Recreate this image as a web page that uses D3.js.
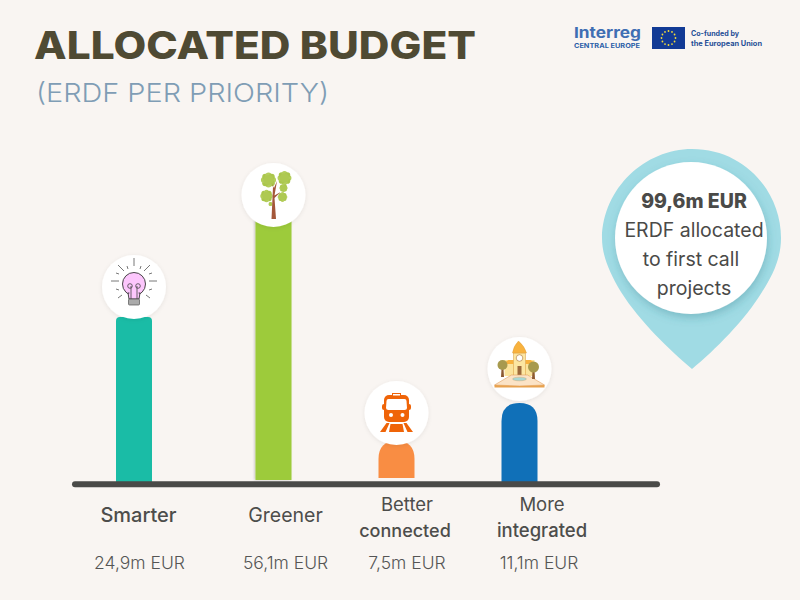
<!DOCTYPE html>
<html><head><meta charset="utf-8">
<script src="https://cdn.jsdelivr.net/npm/d3@7"></script>
<style>html,body{margin:0;padding:0;background:#f9f5f2}svg{display:block}text{font-family:Inter,Lato,sans-serif}</style>
</head><body><div id="c"></div>
<script>
const categories = [["Smarter"],["Greener"],["Better","connected"],["More","integrated"]];
const valuesMEur = [24.9,56.1,7.5,11.1];
const valueLabels = ["24,9m EUR","56,1m EUR","7,5m EUR","11,1m EUR"];
const barColors = ["#1abca6","#9dcb3b","#f98d43","#1070b8"];
const calloutLines = ["99,6m EUR","ERDF allocated","to first call","projects"];
const titleText = "ALLOCATED BUDGET";
const subtitleText = "(ERDF PER PRIORITY)";

const W=800,H=600;
const svg=d3.select("#c").append("svg").attr("width",W).attr("height",H);
svg.append("rect").attr("width",W).attr("height",H).attr("fill","#f9f5f2");
const defs=svg.append("defs");
const mk=(id,dx,dy,s,c,o)=>defs.append("filter").attr("id",id).attr("x","-30%").attr("y","-30%").attr("width","160%").attr("height","160%")
  .append("feDropShadow").attr("dx",dx).attr("dy",dy).attr("stdDeviation",s).attr("flood-color",c).attr("flood-opacity",o);
mk("sh",0,1,2,"#000",0.08); mk("sh2",1,4,4,"#2a7486",0.3); mk("sh3",-1,0,1,"#000",0.2);

svg.append("text").attr("x",34).attr("y",58.5).attr("font-size",38.5).attr("font-weight",800).attr("fill","#4f4a33").attr("textLength",442).attr("lengthAdjust","spacingAndGlyphs").text(titleText);
svg.append("text").attr("x",36).attr("y",102).attr("font-size",26).attr("font-weight",300).attr("fill","#7f9db5").attr("textLength",293).attr("lengthAdjust","spacingAndGlyphs").text(subtitleText);

const xs=[134,273.5,396.5,519.5];
const xScale=d3.scaleOrdinal().domain(d3.range(4)).range(xs);
// piecewise scale: the source's bar lengths are not proportional to the values
const yLen=d3.scaleLinear().domain([0,7.5,11.1,24.9,56.1]).range([0,37,79,165,262]);
const bottoms=[482,480,478,482];
const barW=36;

svg.append("g").selectAll("path").data(valuesMEur).join("path")
 .attr("fill",(d,i)=>barColors[i]).attr("filter",(d,i)=>i===1?"url(#sh3)":null)
 .attr("d",(d,i)=>{
   const cx=xScale(i),b=bottoms[i],t=b-yLen(d),hw=barW/2,r=i<2?4:18;
   return `M${cx-hw},${b}V${t+r}Q${cx-hw},${t} ${cx-hw+r},${t}H${cx+hw-r}Q${cx+hw},${t} ${cx+hw},${t+r}V${b}Z`;
 });

svg.append("line").attr("x1",75).attr("x2",657).attr("y1",484.3).attr("y2",484.3).attr("stroke","#4a4a48").attr("stroke-width",6).attr("stroke-linecap","round");

const circ=[[134,287],[273.5,195],[396.5,413],[519.5,369]];
svg.append("g").selectAll("circle").data(circ).join("circle").attr("cx",d=>d[0]).attr("cy",d=>d[1]).attr("r",32).attr("fill","#fff").attr("filter","url(#sh)");

// bulb icon
(function(){const g=svg.append("g").attr("transform","translate(134,287)");
 g.append("circle").attr("cx",0).attr("cy",-3).attr("r",11.5).attr("fill","#fcc6fc").attr("stroke","#333").attr("stroke-width",.9);
 g.append("path").attr("d","M-6,6L-5,12H5L6,6Z").attr("fill","#fcc6fc").attr("stroke","#333").attr("stroke-width",.9);
 g.append("rect").attr("x",-4.6).attr("y",5).attr("width",9.2).attr("height",2).attr("fill","#fcc6fc");
 g.append("path").attr("d","M-3,12V-1M3,12V-1").attr("fill","none").attr("stroke","#444").attr("stroke-width",.8);
 g.append("circle").attr("cx",-4).attr("cy",-1).attr("r",2.3).attr("fill","none").attr("stroke","#444").attr("stroke-width",.8);
 g.append("circle").attr("cx",4).attr("cy",-1).attr("r",2.3).attr("fill","none").attr("stroke","#444").attr("stroke-width",.8);
 g.append("rect").attr("x",-5.5).attr("y",12).attr("width",11).attr("height",6).attr("rx",1).attr("fill","#aaa").attr("stroke","#555").attr("stroke-width",.7);
 const rays=[[0,-29,0,-21],[-16,-22,-10,-16],[16,-22,10,-16],[-7,-21,-6,-18],[7,-21,6,-18],[-23,-6,-15,-6],[23,-6,15,-6],[-18,-14,-15,-13],[18,-14,15,-13],[-18,2,-15,3],[18,2,15,3],[-16,11,-12,8],[16,11,12,8]];
 g.selectAll("line").data(rays).join("line").attr("x1",d=>d[0]).attr("y1",d=>d[1]).attr("x2",d=>d[2]).attr("y2",d=>d[3]).attr("stroke","#555").attr("stroke-width",.8);
})();
// tree icon
(function(){const g=svg.append("g").attr("transform","translate(273.5,195)");
 const b=[[-5,-15,7.3],[11,-17,6.7],[10,-7,4],[-7,1,6],[9,2,4.7],[-3,9,2]];
 b.forEach(c=>{
   d3.range(8).forEach(k=>{const a=k*Math.PI/4;
     g.append("circle").attr("cx",c[0]+c[2]*.62*Math.cos(a)).attr("cy",c[1]+c[2]*.62*Math.sin(a)).attr("r",c[2]*.42).attr("fill",k%2?"#aac64c":"#b4ce5c");});
   g.append("circle").attr("cx",c[0]).attr("cy",c[1]).attr("r",c[2]*.7).attr("fill","#aec952");
 });
 g.append("path").attr("d","M-0.5,-8L-2,24H2.5L1,3L7,-3L1,0.5L3.5,-14L0.5,-7L-2,-12Z").attr("fill","#a4573a");
})();
// train icon
(function(){const g=svg.append("g").attr("transform","translate(396.5,413)");const c="#ef6408";
 g.append("rect").attr("x",-12.5).attr("y",-18).attr("width",25).attr("height",27).attr("rx",5).attr("fill",c);
 g.append("rect").attr("x",-4).attr("y",-19.5).attr("width",8).attr("height",2.5).attr("fill","#fff").attr("stroke",c).attr("stroke-width",1);
 g.append("rect").attr("x",-14.5).attr("y",-9).attr("width",29).attr("height",6).attr("rx",2).attr("fill",c);
 g.append("path").attr("d","M-8,-14H8Q10,-14 10,-12L10.5,-5Q10.5,-3 8,-3H-8Q-10.5,-3 -10.5,-5L-10,-12Q-10,-14 -8,-14Z").attr("fill","#fff");
 g.append("circle").attr("cx",-5.5).attr("cy",2).attr("r",2).attr("fill","#fff");
 g.append("circle").attr("cx",6).attr("cy",2).attr("r",2).attr("fill","#fff");
 g.append("path").attr("d","M-10,10H-7L-11,19H-16.5ZM10,10H7L11,19H16.5ZM-6,11H6L7.5,19H-7.5Z").attr("fill",c);
})();
// town icon
(function(){const g=svg.append("g").attr("transform","translate(519.5,369)");
 g.append("rect").attr("x",-15).attr("y",-9).attr("width",30).attr("height",16).attr("fill","#fbe39c");
 g.append("path").attr("d","M-11,-9L-17,-5H-6V-9ZM11,-9L17,-5H6V-9Z").attr("fill","#f8b23e");
 g.append("rect").attr("x",-6).attr("y",-16).attr("width",12).attr("height",24).attr("fill","#fce6a2").attr("stroke","#d99a3c").attr("stroke-width",.5);
 g.append("path").attr("d","M-7,-16Q-6,-23 -1,-28Q5,-23 7,-16Z").attr("fill","#f8b23e").attr("stroke","#d99a3c").attr("stroke-width",.4);
 g.append("circle").attr("cx",0).attr("cy",-11).attr("r",3.3).attr("fill","#fff").attr("stroke","#a76f2c").attr("stroke-width",.6);
 g.append("rect").attr("x",-2).attr("y",-3).attr("width",4).attr("height",9).attr("fill","#9c6a3c");
 g.append("path").attr("d","M-25,16L-8,6H8L25,16L0,17Z").attr("fill","#fbe3c6").attr("stroke","#e0a060").attr("stroke-width",.6);
 g.append("path").attr("d","M-25,16L0,17L25,16V18.5H-25Z").attr("fill","#e8a24f");
 [[-17,-4,5],[14,-2,5.5]].forEach(t=>{
   g.append("path").attr("d",`M${t[0]-.8},${t[1]}L${t[0]-1.5},${t[1]+12}H${t[0]+1.5}L${t[0]+.8},${t[1]}Z`).attr("fill","#8d5a32");
   g.append("circle").attr("cx",t[0]).attr("cy",t[1]).attr("r",t[2]).attr("fill","#a79a4e");
 });
 g.append("ellipse").attr("cx",0).attr("cy",10).attr("rx",7).attr("ry",1.8).attr("fill","#a8d8d4").attr("stroke","#c9a16b").attr("stroke-width",.4);
})();

// labels
const labelX=[[138.5],[285.5],[407,405],[542,542]];
const labelY=[[522],[522],[511,537],[511,537]];
const labelSize=[[20],[19.5],[18.5,18],[18.5,18.5]];
const lab=svg.append("g").attr("text-anchor","middle").attr("fill","#4d4d4b");
categories.forEach((c,i)=>c.forEach((t,k)=>lab.append("text").attr("x",labelX[i][k]).attr("y",labelY[i][k])
  .attr("font-size",labelSize[i][k]).attr("font-weight",i===0||k===1?500:400).text(t)));
const vx=[139.5,285.5,407,539];
svg.append("g").attr("text-anchor","middle").attr("fill","#555").selectAll("text").data(valueLabels).join("text").attr("x",(d,i)=>vx[i]).attr("y",569).attr("font-size",17.5).attr("font-weight",300).text(d=>d);

// callout pin
svg.append("path").attr("fill","#a0dbe4").attr("d","M692,369C670,350 640,322 621,292C609,272 602,255 602,238C603,188 645,149 692,149C745,149 781,192 781,238C781,258 773,275 762,292C745,320 715,350 692,369Z");
svg.append("circle").attr("cx",691).attr("cy",238).attr("r",76).attr("fill","#fff").attr("filter","url(#sh2)");
const cy=[208,237,266,295];
svg.append("g").attr("text-anchor","middle").attr("fill","#4a4a48").selectAll("text").data(calloutLines).join("text")
 .attr("x",(d,i)=>[694,694,691,694][i]).attr("y",(d,i)=>cy[i]).attr("font-size",19.5).attr("font-weight",(d,i)=>i===0?800:400).text(d=>d);

// logos
const lg=svg.append("g");
lg.append("text").attr("x",574).attr("y",38).attr("font-size",15).attr("font-weight",700).attr("fill","#3f6eb3").attr("textLength",67).attr("lengthAdjust","spacingAndGlyphs").text("Interreg");
lg.append("text").attr("x",574).attr("y",48).attr("font-size",6.5).attr("font-weight",700).attr("fill","#2b5fa8").attr("textLength",66).attr("lengthAdjust","spacingAndGlyphs").text("CENTRAL EUROPE");
lg.append("rect").attr("x",652).attr("y",27).attr("width",33).attr("height",22).attr("fill","#123a95");
const stars=d3.range(12).map(i=>i*Math.PI/6);
lg.selectAll("circle.s").data(stars).join("circle").attr("class","s").attr("cx",a=>668.5+7*Math.cos(a)).attr("cy",a=>38+7*Math.sin(a)).attr("r",.9).attr("fill","#f4dc3a");
lg.append("text").attr("x",691).attr("y",36).attr("font-size",7).attr("font-weight",700).attr("fill","#1f4e96").attr("textLength",48).attr("lengthAdjust","spacingAndGlyphs").text("Co-funded by");
lg.append("text").attr("x",691).attr("y",46).attr("font-size",7).attr("font-weight",700).attr("fill","#1f4e96").attr("textLength",71).attr("lengthAdjust","spacingAndGlyphs").text("the European Union");
</script></body></html>
